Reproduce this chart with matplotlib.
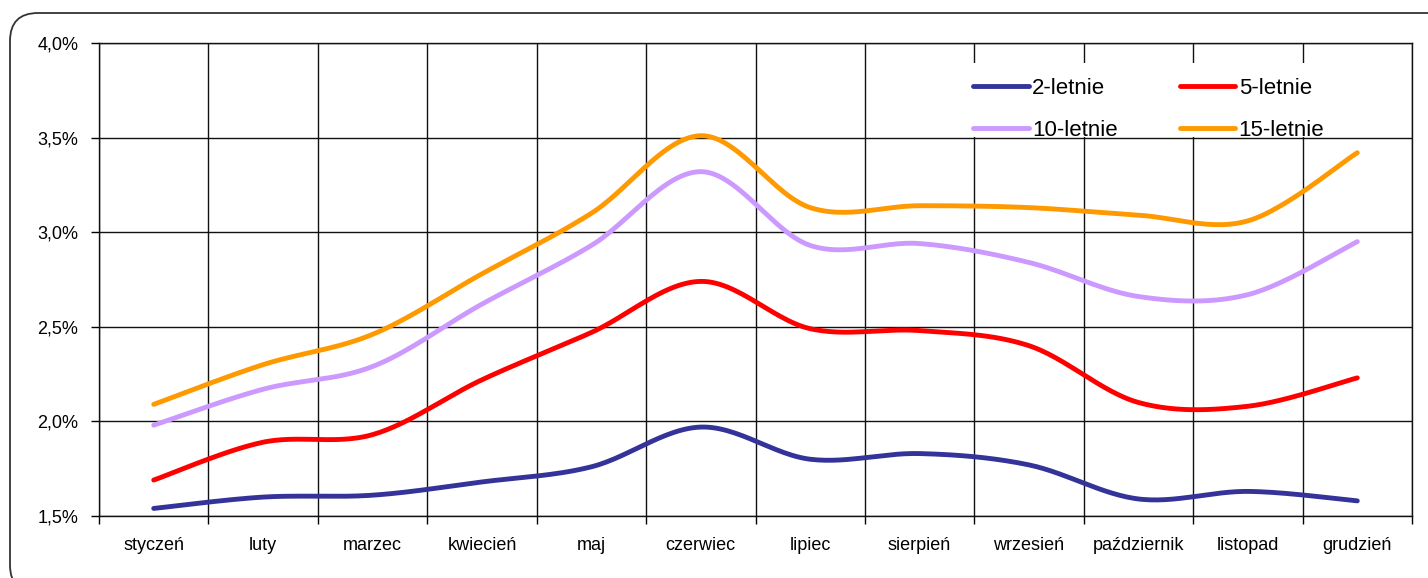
import numpy as np
import matplotlib.pyplot as plt
from matplotlib.patches import FancyBboxPatch, Rectangle
from matplotlib.ticker import FuncFormatter, MultipleLocator

plt.rcParams['font.family'] = ['Liberation Sans', 'DejaVu Sans']

months = ['styczeń', 'luty', 'marzec', 'kwiecień', 'maj', 'czerwiec',
          'lipiec', 'sierpień', 'wrzesień', 'październik', 'listopad', 'grudzień']

y2 = [1.54, 1.60, 1.61, 1.68, 1.76, 1.97, 1.80, 1.83, 1.77, 1.59, 1.63, 1.58]
y5 = [1.69, 1.89, 1.93, 2.22, 2.47, 2.74, 2.49, 2.48, 2.40, 2.10, 2.08, 2.23]
y10 = [1.98, 2.17, 2.29, 2.62, 2.93, 3.32, 2.93, 2.94, 2.84, 2.66, 2.67, 2.95]
y15 = [2.09, 2.30, 2.46, 2.78, 3.10, 3.51, 3.13, 3.14, 3.13, 3.09, 3.06, 3.42]

series = [('2-letnie', y2, '#333399'),
          ('5-letnie', y5, '#ff0000'),
          ('10-letnie', y10, '#cc99ff'),
          ('15-letnie', y15, '#ff9900')]


def smooth(x, y, n=30):
    # Catmull-Rom style bezier, like Excel's smoothed line
    x = np.asarray(x, float)
    y = np.asarray(y, float)
    px = np.concatenate([[x[0]], x, [x[-1]]])
    py = np.concatenate([[y[0]], y, [y[-1]]])
    t = np.linspace(0, 1, n)
    xs, ys = [], []
    for i in range(1, len(px) - 2):
        p0 = np.array([px[i], py[i]])
        p3 = np.array([px[i + 1], py[i + 1]])
        c1 = p0 + (np.array([px[i + 1], py[i + 1]]) - np.array([px[i - 1], py[i - 1]])) / 6
        c2 = p3 - (np.array([px[i + 2], py[i + 2]]) - np.array([px[i], py[i]])) / 6
        b = ((1 - t) ** 3)[:, None] * p0 + (3 * (1 - t) ** 2 * t)[:, None] * c1 \
            + (3 * (1 - t) * t ** 2)[:, None] * c2 + (t ** 3)[:, None] * p3
        xs.extend(b[:, 0])
        ys.extend(b[:, 1])
    return xs, ys


W, H = 1428, 578
fig = plt.figure(figsize=(W / 100, H / 100), dpi=100)
ax = fig.add_axes([99 / W, 1 - 516 / H, (1412 - 99) / W, (516 - 43) / H])

x = np.arange(len(months))
lines = {}
for name, vals, col in series:
    sx, sy = smooth(x, vals)
    lines[name], = ax.plot(sx, sy, color=col, lw=3.5, label=name, solid_capstyle='round')

ax.set_xlim(-0.5, len(months) - 0.5)
ax.set_ylim(1.5, 4.0)
ax.set_xticks(x)
ax.set_xticklabels(months, fontsize=13)
ax.set_xticks(np.arange(-0.5, len(months), 1), minor=True)
ax.tick_params(axis='x', which='major', length=0, pad=15)
ax.tick_params(axis='x', which='minor', length=6, width=1, direction='out')
ax.yaxis.set_major_locator(MultipleLocator(0.5))
ax.yaxis.set_major_formatter(FuncFormatter(lambda v, p: f'{v:.1f}%'.replace('.', ',')))
ax.tick_params(axis='y', length=6, width=1, labelsize=13, pad=9)
ax.grid(True, axis='y', color='#111111', lw=1)
ax.grid(True, axis='x', which='minor', color='#111111', lw=1)
for s in ax.spines.values():
    s.set_color('#111111')
    s.set_linewidth(1)

# white legend area covering the gridlines
ax.add_patch(Rectangle((940 / W, 1 - 137 / H), (1355 - 940) / W, (137 - 63) / H,
                       transform=fig.transFigure, facecolor='white',
                       edgecolor='none', zorder=1.8, clip_on=False))

# legend fills column-wise, so order handles to get rows 2/5 and 10/15
order = ['2-letnie', '10-letnie', '5-letnie', '15-letnie']
leg = ax.legend([lines[k] for k in order], order, ncol=2, loc='upper left',
                bbox_to_anchor=(973 / W, 1 - 78 / H),
                bbox_transform=fig.transFigure, fontsize=16, frameon=False,
                handlelength=2.5, handletextpad=0.15, columnspacing=2.8,
                labelspacing=0.95, borderpad=0, borderaxespad=0)

frame = FancyBboxPatch((10, -15), 1450, H - 13 + 15,
                       boxstyle='round,pad=0,rounding_size=28',
                       transform=None, facecolor='none', edgecolor='#333333',
                       lw=1.3, zorder=10)
fig.patches.append(frame)

fig.savefig('out.png', dpi=100)
